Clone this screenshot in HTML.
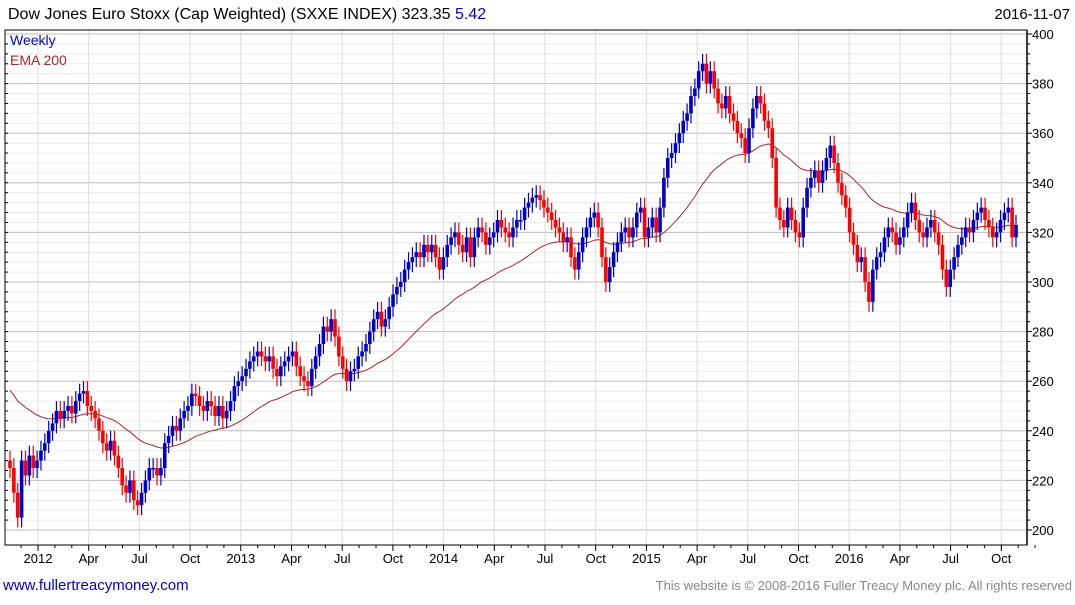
<!DOCTYPE html>
<html><head><meta charset="utf-8"><style>
body{margin:0;background:#fff;font-family:"Liberation Sans",sans-serif;}
svg text{font-family:"Liberation Sans",sans-serif;}
</style></head><body>
<svg id="c" width="1075" height="600">
<text x="8" y="19" font-size="16" fill="#000">Dow Jones Euro Stoxx (Cap Weighted)  (SXXE INDEX) 323.35 <tspan fill="#0000dd">5.42</tspan></text>
<text x="1070" y="19" font-size="15" fill="#000" text-anchor="end">2016-11-07</text>
<g id="grid"></g><g id="ema"></g><g id="candles"></g><g id="axes"></g>
<text x="10" y="45" font-size="14" fill="#0000dd">Weekly</text>
<text x="10" y="65" font-size="14" fill="#a52a2a">EMA 200</text>
<text x="3" y="590" font-size="15" fill="#0000dd">www.fullertreacymoney.com</text>
<text x="1072" y="590" font-size="13" fill="#888" text-anchor="end">This website is © 2008-2016 Fuller Treacy Money plc. All rights reserved</text>
</svg>
<script>
const closes=[225,215,205,228,222,230,225,228,232,
235,240,243,248,245,248,250,247,252,255,256,250,248,245,240,235,232,236,230,225,218,215,220,212,210,215,220,225,225,222,225,235,238,242,240,245,248,250,255,254,250,248,252,250,246,250,245,248,252,258,260,262,265,268,
270,272,270,268,270,265,262,266,268,270,272,266,262,260,258,265,270,275,282,280,285,278,270,265,260,264,265,270,272,275,280,285,288,282,285,290,295,298,300,305,308,310,312,310,315,312,315,310,305,310,315,
318,320,315,312,318,310,318,322,320,315,318,320,325,322,320,318,322,325,325,330,332,334,335,333,330,328,325,322,320,316,318,310,305,312,318,322,326,328,322,310,300,306,312,316,320,322,318,322,328,330,318,322,326,
320,330,342,350,352,356,360,365,368,375,378,385,388,380,385,378,372,370,375,368,365,360,358,352,362,370,375,372,365,362,350,330,325,322,330,325,320,318,330,338,342,345,340,345,350,355,348,340,335,330,
320,315,308,310,300,292,305,310,312,318,322,320,315,318,322,328,332,325,320,318,322,325,320,315,305,298,305,310,315,318,322,320,325,328,330,325,322,318,320,325,328,330,318,323];
const yTicks=[200,220,240,260,280,300,320,340,360,380,400];
const xLabels=["2012","Apr","Jul","Oct","2013","Apr","Jul","Oct","2014","Apr","Jul","Oct","2015","Apr","Jul","Oct","2016","Apr","Jul","Oct"];
const emaSeed=258;
const NS="http://www.w3.org/2000/svg";
const L=5,R=1027,T=30,B=545;
const y=v=>34+(400-v)*2.48;
const n=closes.length;
const step=(1016-10)/(n-1);
const x=i=>10+i*step;
const qx=q=>38+q*50.7;
function mk(tag,a,p){const e=document.createElementNS(NS,tag);for(const k in a)e.setAttribute(k,a[k]);p.appendChild(e);return e;}
const grid=document.getElementById('grid'),axes=document.getElementById('axes');
mk('rect',{x:L,y:T,width:R-L,height:B-T,fill:'#fff',stroke:'none'},grid);
for(let v=200;v<=400;v+=4){const g=mk('line',{x1:L,x2:R,y1:y(v),y2:y(v),stroke:v%20===0?'#bdbdbd':'#ececec','stroke-width':1},grid);

}
xLabels.forEach((t,q)=>{const g=mk('line',{x1:qx(q),x2:qx(q),y1:T,y2:B,stroke:'#dcdcdc'},grid);


const tx=mk('text',{x:qx(q),y:563,'font-size':13,'text-anchor':'middle',fill:'#000'},axes);tx.textContent=t;


mk('line',{x1:qx(q),x2:qx(q),y1:B,y2:B+6,stroke:'#000'},axes);
for(let m=1;m<3;m++)mk('line',{x1:qx(q)+m*16.9,x2:qx(q)+m*16.9,y1:B,y2:B+3,stroke:'#000'},axes);});
mk('line',{x1:qx(0)-16.9,x2:qx(0)-16.9,y1:B,y2:B+3,stroke:'#000'},axes);
mk('rect',{x:L,y:T,width:R-L,height:B-T,fill:'none',stroke:'#000','stroke-width':1},axes);
mk('line',{x1:R,x2:R,y1:T,y2:B,stroke:'#000','stroke-width':1.5},axes);
yTicks.forEach(v=>{const tx=mk('text',{x:1032,y:y(v)+5,'font-size':13,fill:'#000'},axes);tx.textContent=v;


mk('line',{x1:R,x2:R+5,y1:y(v),y2:y(v),stroke:'#000'},axes);});
for(let v=204;v<400;v+=4){if(v%20)mk('line',{x1:R,x2:R+3,y1:y(v),y2:y(v),stroke:'#000'},axes);}
for(let v=204;v<400;v+=4)mk('line',{x1:L,x2:L+3,y1:y(v),y2:y(v),stroke:'#000'},axes);
let e=emaSeed,pts=[];const a=2/41;
closes.forEach((c,i)=>{e=e+a*(c-e);pts.push(x(i).toFixed(1)+','+y(e).toFixed(1));});
const pl=mk('polyline',{points:pts.join(' '),fill:'none',stroke:'#a52a2a','stroke-width':1},document.getElementById('ema'));


const cg=document.getElementById('candles');
closes.forEach((c,i)=>{const o=i?closes[i-1]:c+3;const up=c>=o;const col=up?'#0000cc':'#ff0000';
const hi=Math.max(o,c)+4,lo=Math.min(o,c)-4;
const g=mk('g',{},cg);


mk('line',{x1:x(i),x2:x(i),y1:y(hi),y2:y(lo),stroke:col,'stroke-width':1.2},g);
const top=y(Math.max(o,c)),h=Math.max(1.5,Math.abs(y(o)-y(c)));
mk('rect',{x:x(i)-1.8,y:top,width:3.6,height:h,fill:col},g);});
</script>
</body></html>
